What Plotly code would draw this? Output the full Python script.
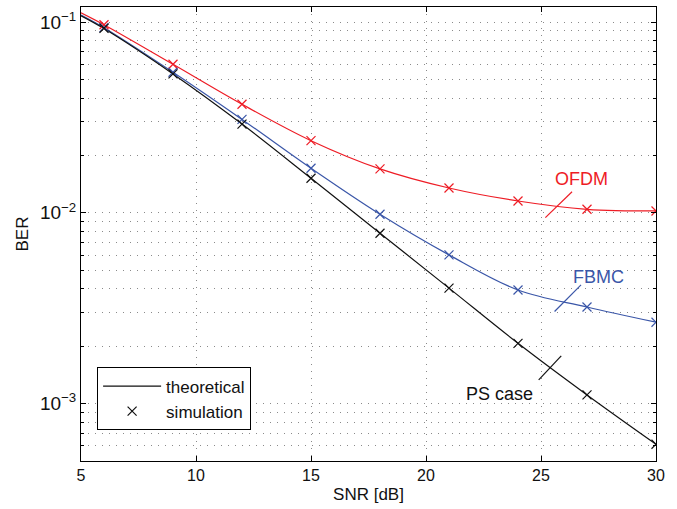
import numpy as np
import plotly.graph_objects as go

# ---- data ----
snr_sim = [6, 9, 12, 15, 18, 21, 24, 27, 30]
ber_ps_sim = [0.0928, 0.0535, 0.0292, 0.01518, 0.00782, 0.00403, 0.00207, 0.00111, 0.000612]
ber_fbmc_sim = [0.0935, 0.0546, 0.0309, 0.01713, 0.00983, 0.00602, 0.00394, 0.00321, 0.00267]
ber_ofdm_sim = [0.0969, 0.0601, 0.0371, 0.0239, 0.0170, 0.0135, 0.01154, 0.01044, 0.01023]

snr_theory = [5, 6, 9, 12, 15, 18, 21, 24, 27, 30]
ber_ps_theory = [0.108, 0.0925, 0.0535, 0.0292, 0.01518, 0.00782, 0.00403, 0.00207, 0.00111, 0.000612]
ber_fbmc_theory = [0.109, 0.0935, 0.0546, 0.0309, 0.01713, 0.00983, 0.00602, 0.00394, 0.00321, 0.00267]
ber_ofdm_theory = [0.112, 0.0969, 0.0601, 0.0371, 0.0239, 0.0170, 0.0135, 0.01154, 0.01044, 0.01023]

x_ticks = [5, 10, 15, 20, 25, 30]
y_ticks = [1e-3, 1e-2, 1e-1]
y_ticktext = ["10<sup>−3</sup>", "10<sup>−2</sup>", "10<sup>−1</sup>"]
y_minor = [m * 10.0 ** e for e in (-4, -3, -2, -1) for m in range(2, 10)]
y_minor = [v for v in y_minor if 5e-4 <= v <= 0.12]

# label pointer lines (x pairs, y pairs)
ofdm_ptr_x, ofdm_ptr_y = [25.19, 26.35], [0.00944, 0.0129]
fbmc_ptr_x, fbmc_ptr_y = [25.59, 26.74], [0.00304, 0.00419]
ps_ptr_x, ps_ptr_y = [24.9, 25.88], [0.00133, 0.00178]

RED = "#ee1c25"
BLUE = "#3a56a8"
BLACK = "#111111"
FONT = "Liberation Sans, Arial, Helvetica, sans-serif"

labels = [("OFDM", 26.75, 0.01506, RED),
          ("FBMC", 27.48, 0.00461, BLUE),
          ("PS case", 23.19, 0.001125, BLACK)]

fig = go.Figure()

for xs, ys, col in [(snr_theory, ber_ofdm_theory, RED),
                    (snr_theory, ber_fbmc_theory, BLUE)]:
    fig.add_trace(go.Scatter(x=xs, y=ys, mode="lines", line=dict(color=col, width=1.2, shape="spline"),
                             showlegend=False, hoverinfo="skip"))
fig.add_trace(go.Scatter(x=snr_theory, y=ber_ps_theory, mode="lines",
                         line=dict(color=BLACK, width=1.2, shape="spline"), name="theoretical"))

for xs, ys, col in [(snr_sim, ber_ofdm_sim, RED), (snr_sim, ber_fbmc_sim, BLUE)]:
    fig.add_trace(go.Scatter(x=xs, y=ys, mode="markers",
                             marker=dict(symbol="x-thin-open", size=9, line=dict(color=col, width=1.2), color=col),
                             showlegend=False))
fig.add_trace(go.Scatter(x=snr_sim, y=ber_ps_sim, mode="markers",
                         marker=dict(symbol="x-thin-open", size=9, line=dict(color=BLACK, width=1.2), color=BLACK),
                         name="simulation"))

for px, py, col in [(ofdm_ptr_x, ofdm_ptr_y, RED), (fbmc_ptr_x, fbmc_ptr_y, BLUE), (ps_ptr_x, ps_ptr_y, BLACK)]:
    fig.add_trace(go.Scatter(x=px, y=py, mode="lines", line=dict(color=col, width=1.2),
                             showlegend=False, hoverinfo="skip"))

for txt, lx, ly, col in labels:
    fig.add_annotation(x=lx, y=np.log10(ly), text=txt, showarrow=False,
                       font=dict(size=18, color=col, family=FONT), xanchor="center", yanchor="middle")

grid_dash = "1px,6px"
GRID = "#8a8a8a"
fig.update_layout(
    width=677, height=509,
    margin=dict(l=81, r=21, t=7, b=48),
    paper_bgcolor="white", plot_bgcolor="white",
    font=dict(family=FONT, size=16, color="#111"),
    legend=dict(x=0.028, y=0.206, xanchor="left", yanchor="top",
                bgcolor="white", bordercolor="black", borderwidth=1,
                font=dict(size=17), itemwidth=58, tracegroupgap=0),
    xaxis=dict(range=[5, 30], tickvals=x_ticks, showline=True, linecolor="black", linewidth=1,
               mirror="ticks", ticks="inside", ticklen=5, tickcolor="black",
               showgrid=True, gridcolor=GRID, griddash=grid_dash, gridwidth=1, zeroline=False,
               title=dict(text="SNR [dB]", font=dict(size=17), standoff=4),
               tickfont=dict(size=16)),
    yaxis=dict(type="log", range=[np.log10(5e-4), np.log10(0.12)], tickvals=y_ticks, ticktext=y_ticktext,
               showline=True, linecolor="black", linewidth=1, mirror="allticks",
               ticks="inside", ticklen=5, tickcolor="black",
               showgrid=True, gridcolor=GRID, griddash=grid_dash, gridwidth=1,
               minor=dict(tickvals=y_minor, showgrid=True, gridcolor=GRID, griddash=grid_dash,
                          gridwidth=1, ticks="inside", ticklen=3, tickcolor="black"),
               title=dict(text="BER", font=dict(size=17), standoff=6),
               tickfont=dict(size=19)),
)

fig.write_html("out.html", config={"displayModeBar": False},
               post_script="document.body.style.margin='0';document.body.style.padding='0';")
